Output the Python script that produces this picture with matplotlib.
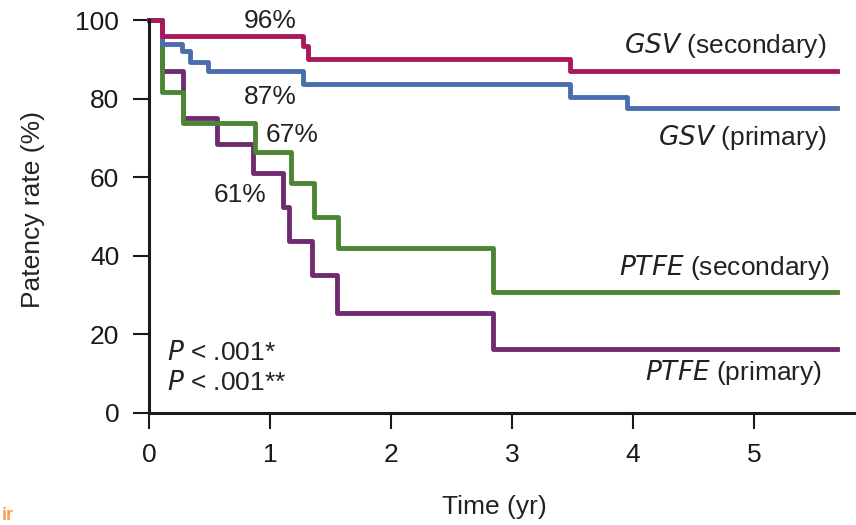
import matplotlib
matplotlib.use("Agg")
import matplotlib.pyplot as plt

plt.rcParams["font.family"] = ["Liberation Sans", "DejaVu Sans"]

# Kaplan-Meier style step data (time in years, patency in %)
gsv_sec_t = [0, 0.11, 1.27, 1.31, 3.48, 5.69]
gsv_sec_y = [100, 96, 93.5, 90, 87, 87]

gsv_pri_t = [0, 0.11, 0.27, 0.34, 0.49, 1.27, 3.48, 3.95, 5.69]
gsv_pri_y = [100, 93.8, 92, 89.4, 86.9, 83.7, 80.5, 77.5, 77.5]

ptfe_sec_t = [0, 0.11, 0.28, 0.88, 1.17, 1.36, 1.56, 2.84, 5.69]
ptfe_sec_y = [100, 81.7, 73.8, 66.4, 58.6, 50, 42, 30.8, 30.8]

ptfe_pri_t = [0, 0.11, 0.28, 0.56, 0.86, 1.11, 1.16, 1.35, 1.55, 2.84, 5.69]
ptfe_pri_y = [100, 87, 75, 68.4, 61, 52.5, 43.8, 35, 25.5, 16.3, 16.3]

x_ticks = [0, 1, 2, 3, 4, 5]
y_ticks = [0, 20, 40, 60, 80, 100]

fig = plt.figure(figsize=(8.56, 5.25), dpi=100)
ax = fig.add_axes([149 / 856, 112 / 525, 707 / 856, 393 / 525])

lw = 3.5
ax.step(ptfe_pri_t, ptfe_pri_y, where="post", color="#6F2B70", lw=lw, clip_on=False)
ax.step(ptfe_sec_t, ptfe_sec_y, where="post", color="#4C8534", lw=lw, clip_on=False)
ax.step(gsv_pri_t, gsv_pri_y, where="post", color="#4A6DAD", lw=lw, clip_on=False)
ax.step(gsv_sec_t, gsv_sec_y, where="post", color="#A8195C", lw=lw, clip_on=False)

ax.set_xlim(0, 707 / 121)
ax.set_ylim(0, 100)
ax.set_xticks(x_ticks)
ax.set_yticks(y_ticks)
ax.spines["top"].set_visible(False)
ax.spines["right"].set_visible(False)
for s in ("left", "bottom"):
    ax.spines[s].set_linewidth(2.2)
    ax.spines[s].set_color("#1a1a1a")
ax.tick_params(axis="both", direction="out", length=11.5, width=1.5,
               labelsize=19, pad=10, colors="#1a1a1a")

tc = "#222222"
fs = 19
ax.set_ylabel("Patency rate (%)", fontsize=fs, color=tc)
ax.yaxis.set_label_coords(-0.147, 0.517)
ax.set_xlabel("Time (yr)", fontsize=fs, color=tc)
ax.xaxis.set_label_coords(0.489, -0.208)

ax.text(1.0, 99.7, "96%", fontsize=fs, color=tc, ha="center", va="center")
ax.text(1.0, 80.4, "87%", fontsize=fs, color=tc, ha="center", va="center")
ax.text(1.18, 70.7, "67%", fontsize=fs, color=tc, ha="center", va="center")
ax.text(0.75, 55.5, "61%", fontsize=fs, color=tc, ha="center", va="center")

ax.text(5.60, 93.6, r"$\it{GSV}$ (secondary)", fontsize=fs, color=tc, ha="right", va="center")
ax.text(5.60, 70.2, r"$\it{GSV}$ (primary)", fontsize=fs, color=tc, ha="right", va="center")
ax.text(5.63, 36.9, r"$\it{PTFE}$ (secondary)", fontsize=fs, color=tc, ha="right", va="center")
ax.text(5.56, 10.2, r"$\it{PTFE}$ (primary)", fontsize=fs, color=tc, ha="right", va="center")

ax.text(0.15, 15.3, r"$\it{P}$ < .001*", fontsize=fs, color=tc, ha="left", va="center")
ax.text(0.15, 7.6, r"$\it{P}$ < .001**", fontsize=fs, color=tc, ha="left", va="center")

fig.text(0.002, 0.002, "ir", fontsize=13, color="#F5A050", fontweight="bold",
         ha="left", va="bottom")

fig.savefig("out.png", dpi=100)
